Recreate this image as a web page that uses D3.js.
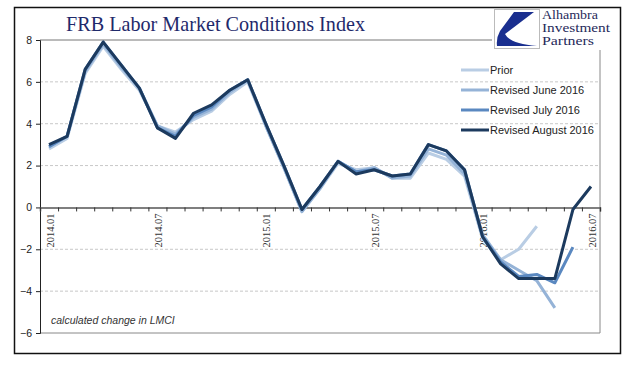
<html>
<head>
<meta charset="utf-8">
<script src="https://cdn.jsdelivr.net/npm/d3@7"></script>
<style>
    body { margin: 0; background: #fff; }
</style>
</head>
<body>
<svg id="container" width="640" height="374"></svg>
<script>
    let months = ["2014.01", "2014.02", "2014.03", "2014.04", "2014.05", "2014.06", "2014.07", "2014.08",
        "2014.09", "2014.10", "2014.11", "2014.12", "2015.01", "2015.02", "2015.03", "2015.04", "2015.05",
        "2015.06", "2015.07", "2015.08", "2015.09", "2015.10", "2015.11", "2015.12", "2016.01", "2016.02",
        "2016.03", "2016.04", "2016.05", "2016.06", "2016.07"]
    let tickLabels = ["2014.01", "2014.07", "2015.01", "2015.07", "2016.01", "2016.07"]
    let yTicks = [-6, -4, -2, 0, 2, 4, 6, 8]

    let prior = [2.8, 3.3, 6.4, 7.7, 6.6, 5.6, 3.9, 3.6, 4.2, 4.6, 5.4, 6.0,
        3.9, 1.9, -0.2, 0.9, 2.1, 1.8, 1.9, 1.4, 1.4, 2.6, 2.3, 1.5,
        -1.5, -2.5, -2.0, -0.9]
    let june = [2.9, 3.4, 6.5, 7.8, 6.7, 5.7, 3.9, 3.5, 4.3, 4.7, 5.5, 6.1,
        3.9, 1.9, -0.2, 0.9, 2.2, 1.7, 1.9, 1.4, 1.5, 2.8, 2.5, 1.6,
        -1.3, -2.5, -3.0, -3.5, -4.8]
    let july = [2.9, 3.4, 6.6, 7.9, 6.8, 5.7, 3.8, 3.4, 4.4, 4.8, 5.6, 6.1,
        4.0, 2.0, -0.1, 1.0, 2.2, 1.7, 1.8, 1.5, 1.6, 3.0, 2.7, 1.8,
        -1.4, -2.6, -3.3, -3.2, -3.6, -1.9]
    let august = [3.0, 3.4, 6.6, 7.9, 6.8, 5.7, 3.8, 3.3, 4.5, 4.9, 5.6, 6.1,
        4.0, 2.0, -0.1, 1.0, 2.2, 1.6, 1.8, 1.5, 1.6, 3.0, 2.7, 1.8,
        -1.4, -2.7, -3.4, -3.4, -3.4, -0.1, 1.0]

    let seriesNames = ["Prior", "Revised June 2016", "Revised July 2016", "Revised August 2016"]
    let seriesColors = ["#b9cde4", "#95b3d7", "#5a88c0", "#1c3a5e"]
    let series = [prior, june, july, august]

    let svg = d3.select("#container")

    // outer frame
    svg.append("rect")
        .attr("x", 14.5).attr("y", 7.5).attr("width", 606).attr("height", 346)
        .attr("fill", "white").attr("stroke", "#111").attr("stroke-width", 1.5)

    let plotLeft = 40, plotRight = 600, plotTop = 40, plotBottom = 333

    let y = d3.scaleLinear().domain([-6, 8]).range([plotBottom, plotTop])
    let x = d3.scaleBand().domain(months).range([plotLeft, plotRight])
    let xEdge = d3.scaleLinear().domain([0, months.length]).range([plotLeft, plotRight])
    let cx = d => x(d) + x.bandwidth() / 2

    // gridlines
    svg.append("g").selectAll("line")
        .data(yTicks.filter(d => d != 0 && d != -6 && d != 8))
        .enter().append("line")
        .attr("x1", plotLeft).attr("x2", plotRight)
        .attr("y1", d => y(d)).attr("y2", d => y(d))
        .attr("stroke", "#c8c8c8").attr("stroke-dasharray", "3,2")

    // plot border pieces
    svg.append("line").attr("x1", plotLeft).attr("x2", 492).attr("y1", y(8)).attr("y2", y(8))
        .attr("stroke", "#777")
    svg.append("line").attr("x1", plotRight).attr("x2", plotRight).attr("y1", 50).attr("y2", y(-6))
        .attr("stroke", "#888")
    svg.append("line").attr("x1", plotLeft).attr("x2", plotRight).attr("y1", y(-6)).attr("y2", y(-6))
        .attr("stroke", "#888")

    // y axis
    let yAxis = d3.axisLeft(y).tickValues(yTicks).tickSize(4).tickPadding(4)
    let yG = svg.append("g").attr("transform", `translate(${plotLeft},0)`).call(yAxis)
    yG.select(".domain").attr("stroke", "#222")
    yG.selectAll(".tick line").attr("stroke", "#222")
    yG.selectAll("text").attr("font-family", "Liberation Sans, Arial, sans-serif")
        .attr("font-size", 10.5).attr("fill", "#222")

    // x axis at zero
    let xAxis = d3.axisBottom(xEdge).tickValues(d3.range(months.length + 1))
        .tickSize(4).tickFormat("")
    let xG = svg.append("g").attr("transform", `translate(0,${y(0)})`).call(xAxis)
    xG.select(".domain").attr("stroke", "#555").attr("stroke-width", 1.5)
    xG.selectAll(".tick line").attr("stroke", "#333")

    svg.append("g").selectAll("text")
        .data(tickLabels)
        .enter().append("text")
        .attr("transform", d => `translate(${cx(d) + 1},${y(0) + 6}) rotate(-90)`)
        .attr("text-anchor", "end")
        .attr("dy", "0.35em")
        .attr("font-family", "Liberation Serif, Times New Roman, serif")
        .attr("font-size", 10.5)
        .attr("fill", "#333")
        .text(d => d)

    // lines
    let line = d3.line()
        .x((d, i) => cx(months[i]))
        .y(d => y(d))

    svg.append("g").selectAll("path")
        .data(series)
        .enter().append("path")
        .attr("d", d => line(d))
        .attr("fill", "none")
        .attr("stroke", (d, i) => seriesColors[i])
        .attr("stroke-width", 3)
        .attr("stroke-linejoin", "round")

    // legend
    let legend = svg.append("g").selectAll("g")
        .data(seriesNames)
        .enter().append("g")
        .attr("transform", (d, i) => `translate(461,${70 + i * 20})`)
    legend.append("line")
        .attr("x1", 0).attr("x2", 28)
        .attr("stroke", (d, i) => seriesColors[i])
        .attr("stroke-width", 3)
    legend.append("text")
        .attr("x", 29).attr("dy", "0.35em")
        .attr("font-family", "Liberation Sans, Arial, sans-serif")
        .attr("font-size", 11)
        .attr("fill", "#222")
        .text(d => d)

    // note
    svg.append("text")
        .attr("x", 51).attr("y", 324)
        .attr("font-family", "Liberation Sans, Arial, sans-serif")
        .attr("font-style", "italic")
        .attr("font-size", 10.5)
        .attr("fill", "#333")
        .text("calculated change in LMCI")

    // title
    svg.append("text")
        .attr("x", 66).attr("y", 31)
        .attr("font-family", "Liberation Serif, Times New Roman, serif")
        .attr("font-size", 21)
        .attr("fill", "#1f2a6b")
        .attr("textLength", 299).attr("lengthAdjust", "spacingAndGlyphs")
        .text("FRB Labor Market Conditions Index")

    // logo
    let logo = svg.append("g")
    logo.append("rect").attr("x", 494.5).attr("y", 9.5).attr("width", 45).attr("height", 39)
        .attr("fill", "white").attr("stroke", "#bbb")
    logo.append("path")
        .attr("d", "M514,12 L534,12 L505,34 Q510,44 537,46 L497,46 Q496,38 500,31 Z")
        .attr("fill", "#1a2f8f")
    let logoWidths = [56, 68, 52]
    logo.selectAll("text")
        .data(["Alhambra", "Investment", "Partners"])
        .enter().append("text")
        .attr("x", 542).attr("y", (d, i) => 19 + i * 13)
        .attr("font-family", "Liberation Serif, Times New Roman, serif")
        .attr("font-size", 11.5)
        .attr("fill", "#1f2a5a")
        .attr("textLength", (d, i) => logoWidths[i]).attr("lengthAdjust", "spacingAndGlyphs")
        .text(d => d)
</script>
</body>
</html>
